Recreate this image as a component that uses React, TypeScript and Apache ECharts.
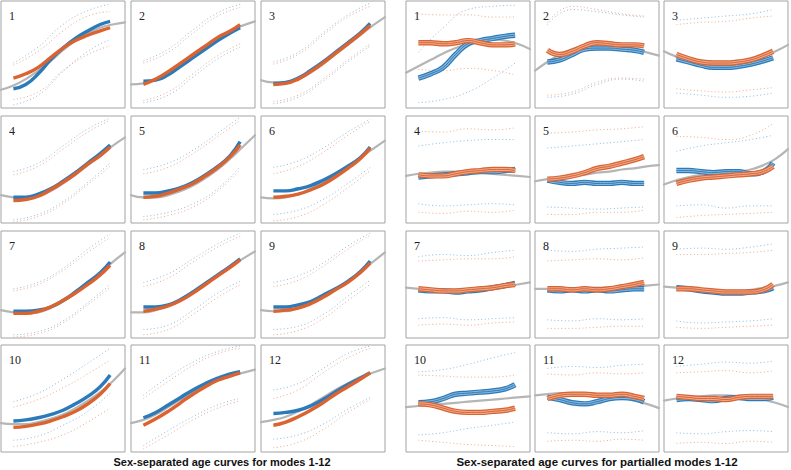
import React, { useEffect, useRef } from "react";
import * as echarts from "echarts";

// x positions (percent of panel width)
const xGray = [0, 10, 20, 30, 40, 50, 60, 70, 80, 90, 100];
const xMain = [10, 20, 30, 40, 50, 60, 70, 80, 88];
const xDot = [10, 30, 50, 70, 88];

const panelLabels = ["1", "2", "3", "4", "5", "6", "7", "8", "9", "10", "11", "12"];
const groupTitles = [
  "Sex-separated age curves for modes 1-12",
  "Sex-separated age curves for partialled modes 1-12",
];

// ---- Left group: modes 1-12 (values in % of panel height) ----
const leftGray = [
  [17, 21, 27, 35, 44, 54, 63, 70, 75, 78, 80],
  [22, 23, 27, 34, 42, 50, 58, 65, 72, 77, 81],
  [26, 24, 24, 27, 33, 41, 50, 59, 68, 77, 85],
  [26, 24, 23, 25, 30, 37, 45, 54, 63, 72, 80],
  [26, 24, 24, 26, 30, 35, 42, 50, 60, 71, 82],
  [24, 23, 24, 27, 32, 38, 45, 53, 61, 69, 77],
  [26, 24, 23, 24, 28, 34, 42, 51, 61, 71, 80],
  [24, 24, 26, 30, 36, 43, 51, 59, 67, 74, 81],
  [26, 25, 25, 28, 32, 38, 45, 53, 62, 71, 80],
  [27, 26, 26, 28, 31, 35, 41, 48, 56, 66, 78],
  [27, 30, 35, 42, 49, 56, 62, 67, 71, 74, 77],
  [28, 30, 33, 38, 44, 51, 58, 64, 70, 74, 78],
];
const leftBlue = [
  [18, 22, 32, 45, 56, 65, 72, 78, 81],
  [25, 26, 31, 39, 47, 55, 63, 70, 75],
  [23, 24, 28, 35, 43, 52, 61, 70, 79],
  [24, 24, 27, 32, 39, 47, 56, 65, 73],
  [28, 28, 30, 33, 38, 45, 53, 63, 76],
  [30, 30, 32, 35, 40, 46, 53, 61, 71],
  [25, 25, 26, 29, 35, 43, 52, 61, 71],
  [29, 29, 31, 36, 43, 51, 59, 67, 74],
  [29, 29, 31, 34, 40, 46, 53, 62, 72],
  [29, 30, 32, 35, 39, 45, 52, 61, 72],
  [32, 37, 44, 51, 58, 64, 69, 73, 75],
  [36, 37, 39, 43, 49, 56, 63, 69, 74],
];
const leftOrange = [
  [28, 32, 38, 47, 56, 63, 68, 72, 75],
  [22, 27, 34, 42, 50, 58, 66, 72, 78],
  [22, 23, 27, 34, 42, 51, 60, 69, 77],
  [21, 22, 25, 31, 38, 46, 55, 63, 71],
  [24, 25, 28, 32, 37, 44, 52, 62, 73],
  [24, 25, 27, 31, 36, 43, 51, 60, 70],
  [23, 23, 25, 29, 35, 42, 50, 59, 68],
  [25, 27, 30, 35, 42, 50, 58, 66, 73],
  [25, 26, 28, 32, 38, 45, 52, 61, 70],
  [23, 24, 26, 29, 33, 38, 45, 54, 64],
  [25, 31, 38, 46, 54, 61, 67, 71, 74],
  [25, 28, 33, 39, 46, 54, 61, 68, 74],
];
const leftBlueHi = [
  [42, 57, 78, 91, 97], [44, 55, 73, 89, 97], [43, 52, 70, 87, 98],
  [48, 56, 72, 88, 98], [50, 56, 68, 84, 99], [52, 58, 70, 85, 97],
  [46, 52, 65, 83, 97], [52, 60, 74, 88, 98], [52, 58, 70, 86, 98],
  [47, 55, 68, 83, 97], [53, 70, 84, 94, 99], [58, 64, 78, 92, 99],
];
const leftOrangeHi = [
  [40, 53, 72, 86, 90], [42, 52, 70, 86, 94], [41, 50, 68, 85, 95],
  [45, 53, 69, 85, 96], [46, 52, 65, 81, 96], [46, 53, 66, 82, 95],
  [44, 50, 63, 80, 94], [48, 56, 71, 85, 95], [48, 54, 67, 83, 96],
  [42, 49, 60, 73, 86], [50, 66, 81, 92, 97], [50, 58, 74, 88, 97],
];
const leftBlueLo = [
  [3, 12, 34, 53, 64], [5, 12, 29, 46, 57], [4, 10, 25, 43, 58],
  [3, 8, 20, 38, 56], [6, 10, 18, 32, 53], [8, 12, 22, 37, 52],
  [3, 6, 16, 33, 50], [8, 12, 26, 42, 53], [8, 11, 22, 39, 54],
  [11, 15, 25, 38, 55], [6, 20, 33, 44, 50], [12, 16, 26, 40, 51],
];
const leftOrangeLo = [
  [8, 15, 35, 50, 58], [7, 15, 32, 49, 60], [6, 12, 27, 45, 60],
  [1, 6, 18, 36, 53], [3, 7, 15, 30, 50], [2, 6, 17, 33, 49],
  [1, 4, 14, 31, 47], [3, 8, 22, 38, 50], [3, 7, 18, 35, 50],
  [5, 9, 16, 28, 41], [3, 16, 30, 41, 48], [4, 9, 21, 37, 49],
];

// ---- Right group: partialled modes 1-12 ----
const rightGray = [
  [33, 39, 45, 51, 56, 60, 63, 64, 63, 60, 55],
  [35, 43, 50, 55, 58, 59, 58, 57, 55, 52, 49],
  [53, 48, 45, 43, 42, 42, 43, 45, 48, 53, 59],
  [44, 46, 47, 48, 48, 48, 47, 46, 45, 44, 43],
  [39, 41, 42, 44, 45, 47, 48, 50, 51, 53, 54],
  [36, 40, 43, 45, 46, 47, 48, 50, 54, 60, 69],
  [47, 46, 45, 45, 45, 45, 46, 47, 48, 50, 52],
  [46, 46, 46, 46, 47, 47, 47, 48, 48, 49, 50],
  [48, 47, 46, 45, 44, 44, 44, 45, 47, 49, 52],
  [42, 43, 44, 45, 46, 47, 48, 49, 50, 51, 52],
  [53, 54, 55, 55, 55, 54, 53, 51, 48, 45, 41],
  [48, 50, 51, 52, 53, 53, 52, 51, 49, 46, 42],
];
const rightBlue = [
  [28, 32, 38, 50, 60, 63, 65, 67, 68],
  [43, 45, 50, 55, 56, 56, 55, 54, 52],
  [46, 43, 40, 38, 38, 39, 41, 44, 47],
  [43, 44, 45, 46, 47, 48, 48, 49, 50],
  [40, 38, 37, 38, 37, 37, 38, 37, 37],
  [49, 49, 48, 47, 48, 48, 46, 48, 56],
  [45, 44, 44, 43, 44, 45, 47, 49, 51],
  [45, 44, 45, 44, 45, 44, 45, 46, 46],
  [47, 46, 44, 43, 42, 42, 43, 44, 47],
  [46, 47, 50, 54, 55, 56, 57, 59, 63],
  [51, 49, 46, 45, 47, 50, 51, 50, 47],
  [49, 50, 49, 48, 50, 51, 50, 50, 51],
];
const rightOrange = [
  [61, 61, 60, 61, 63, 61, 59, 59, 60],
  [54, 50, 53, 58, 61, 60, 59, 59, 58],
  [50, 46, 43, 42, 42, 43, 45, 49, 53],
  [45, 44, 44, 46, 48, 49, 50, 50, 49],
  [41, 42, 44, 47, 51, 53, 56, 59, 62],
  [37, 40, 42, 43, 44, 45, 46, 48, 53],
  [46, 45, 44, 44, 45, 46, 47, 49, 50],
  [46, 46, 45, 46, 45, 46, 48, 50, 52],
  [46, 46, 45, 44, 43, 43, 43, 45, 50],
  [45, 44, 41, 38, 37, 37, 38, 39, 41],
  [50, 53, 54, 54, 53, 53, 54, 52, 50],
  [52, 51, 50, 50, 49, 51, 52, 52, 52],
];
const rightBlueHi = [
  [52, 75, 92, 95, 96], [78, 92, 90, 87, 85], [82, 84, 86, 88, 92],
  [72, 75, 77, 78, 78], [70, 72, 74, 76, 78], [67, 72, 75, 78, 82],
  [76, 78, 77, 80, 82], [82, 81, 83, 84, 85], [83, 84, 83, 85, 88],
  [75, 77, 82, 88, 93], [78, 80, 79, 81, 82], [80, 82, 84, 83, 85],
];
const rightOrangeHi = [
  [88, 87, 87, 85, 85], [80, 95, 92, 88, 86], [78, 80, 81, 84, 86],
  [86, 85, 88, 87, 89], [84, 85, 87, 88, 90], [81, 80, 78, 82, 93],
  [72, 73, 74, 74, 76], [72, 73, 74, 73, 75], [78, 78, 79, 80, 82],
  [72, 71, 70, 70, 72], [73, 72, 74, 73, 74], [74, 75, 76, 74, 76],
];
const rightBlueLo = [
  [5, 8, 15, 28, 42], [10, 13, 22, 27, 25], [14, 12, 10, 11, 14],
  [18, 16, 17, 18, 17], [15, 14, 13, 14, 15], [16, 17, 14, 16, 16],
  [18, 19, 17, 18, 19], [17, 16, 18, 17, 18], [16, 14, 15, 16, 18],
  [16, 18, 22, 25, 28], [18, 17, 19, 18, 20], [18, 17, 19, 20, 19],
];
const rightOrangeLo = [
  [36, 35, 37, 35, 31], [12, 15, 24, 28, 27], [18, 16, 15, 17, 19],
  [10, 9, 11, 10, 12], [8, 8, 10, 10, 12], [5, 7, 8, 9, 10],
  [12, 13, 12, 14, 15], [9, 9, 10, 11, 11], [10, 9, 10, 11, 12],
  [11, 9, 7, 6, 5], [10, 11, 10, 12, 11], [8, 9, 8, 10, 9],
];

const BLUE = "#2b7bba";
const ORANGE = "#db6330";
const BLUE_DOT = "#8fbadd";
const ORANGE_DOT = "#f0a888";
const GRAY = "#b5b5b5";

const COLS = [1, 131, 261, 406, 535, 664];
const ROWS = [1, 116, 231, 345];
const PW = 124;
const PH = 107;

const pts = (xs: number[], ys: number[]) => xs.map((x, i) => [x, ys[i]]);

function buildOption() {
  const grid: any[] = [];
  const xAxis: any[] = [];
  const yAxis: any[] = [];
  const series: any[] = [];
  const graphic: any[] = [];

  const groups = [
    { gray: leftGray, blue: leftBlue, orange: leftOrange, bh: leftBlueHi, oh: leftOrangeHi, bl: leftBlueLo, ol: leftOrangeLo },
    { gray: rightGray, blue: rightBlue, orange: rightOrange, bh: rightBlueHi, oh: rightOrangeHi, bl: rightBlueLo, ol: rightOrangeLo },
  ];

  const line = (idx: number, data: number[][], color: string, width: number, type: any = "solid", z = 2, cap = "round") => ({
    type: "line",
    xAxisIndex: idx,
    yAxisIndex: idx,
    data,
    smooth: 0.5,
    showSymbol: false,
    silent: true,
    z,
    lineStyle: { color, width, type, cap, join: "round" },
  });

  groups.forEach((g, gi) => {
    for (let i = 0; i < 12; i++) {
      const idx = gi * 12 + i;
      const left = COLS[gi * 3 + (i % 3)];
      const top = ROWS[Math.floor(i / 3)];
      grid.push({
        left, top, width: PW, height: PH,
        show: true, borderColor: "#a3a3a3", borderWidth: 1, backgroundColor: "#fff",
      });
      xAxis.push({ type: "value", gridIndex: idx, min: 0, max: 100, show: false });
      yAxis.push({ type: "value", gridIndex: idx, min: 0, max: 100, show: false });

      series.push(line(idx, pts(xGray, g.gray[i]), GRAY, 2.2, "solid", 1));
      const dash = [1, 2.5];
      series.push(line(idx, pts(xDot, g.bh[i]), BLUE_DOT, 1, dash, 1, "butt"));
      series.push(line(idx, pts(xDot, g.oh[i]), ORANGE_DOT, 1, dash, 1, "butt"));
      series.push(line(idx, pts(xDot, g.bl[i]), BLUE_DOT, 1, dash, 1, "butt"));
      series.push(line(idx, pts(xDot, g.ol[i]), ORANGE_DOT, 1, dash, 1, "butt"));

      const b = pts(xMain, g.blue[i]);
      const o = pts(xMain, g.orange[i]);
      if (gi === 0) {
        series.push(line(idx, b, BLUE, 3.4, "solid", 3, "butt"));
        series.push(line(idx, o, ORANGE, 3.4, "solid", 4, "butt"));
      } else {
        series.push(line(idx, b, BLUE, 5.4, "solid", 3, "butt"));
        series.push(line(idx, b, "rgba(255,255,255,0.45)", 3.0, "solid", 3, "butt"));
        series.push(line(idx, b, BLUE, 1.0, "solid", 3, "butt"));
        series.push(line(idx, o, ORANGE, 5.4, "solid", 4, "butt"));
        series.push(line(idx, o, "rgba(255,255,255,0.45)", 3.0, "solid", 4, "butt"));
        series.push(line(idx, o, ORANGE, 1.0, "solid", 4, "butt"));
      }

      graphic.push({
        type: "text",
        left: left + 8,
        top: top + 9,
        z: 100,
        style: {
          text: panelLabels[i],
          fill: "#222",
          font: "12px 'Liberation Serif', 'DejaVu Serif', serif",
        },
      });
    }
  });

  graphic.push({
    type: "text",
    x: 222,
    y: 462,
    z: 100,
    style: {
      text: groupTitles[0],
      fill: "#111",
      textAlign: "center",
      textVerticalAlign: "middle",
      font: "bold 11px 'Liberation Sans', Arial, sans-serif",
    },
  });
  graphic.push({
    type: "text",
    x: 597,
    y: 462,
    z: 100,
    style: {
      text: groupTitles[1],
      fill: "#111",
      textAlign: "center",
      textVerticalAlign: "middle",
      font: "bold 11.5px 'Liberation Sans', Arial, sans-serif",
    },
  });

  return {
    animation: false,
    backgroundColor: "#fff",
    grid,
    xAxis,
    yAxis,
    series,
    graphic,
  };
}

export default function App() {
  const ref = useRef<HTMLDivElement>(null);
  useEffect(() => {
    if (!ref.current) return;
    const chart = echarts.init(ref.current, undefined, { renderer: "svg" });
    chart.setOption(buildOption() as any);
    return () => chart.dispose();
  }, []);
  return (
    <div
      ref={ref}
      style={{ position: "fixed", left: 0, top: 0, width: 791, height: 470, background: "#fff" }}
    />
  );
}
